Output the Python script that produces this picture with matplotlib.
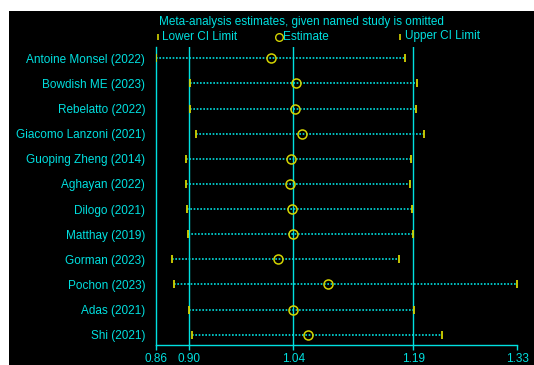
import matplotlib
matplotlib.use("Agg")
import matplotlib.pyplot as plt
from matplotlib.patches import Rectangle
from matplotlib.lines import Line2D

studies = ["Antoine Monsel (2022)", "Bowdish ME (2023)", "Rebelatto (2022)",
           "Giacomo Lanzoni (2021)", "Guoping Zheng (2014)", "Aghayan (2022)",
           "Dilogo (2021)", "Matthay (2019)", "Gorman (2023)", "Pochon (2023)",
           "Adas (2021)", "Shi (2021)"]
estimate = [1.0092, 1.0414, 1.0401, 1.0491, 1.0354, 1.0345, 1.0363, 1.0375,
            1.0182, 1.0830, 1.0383, 1.0569]
lower_ci = [0.8610, 0.9056, 0.9048, 0.9125, 0.9004, 0.8997, 0.9013, 0.9026,
            0.8824, 0.8842, 0.9035, 0.9078]
upper_ci = [1.1827, 1.1977, 1.1964, 1.2068, 1.1909, 1.1896, 1.1917, 1.1930,
            1.1749, 1.3270, 1.1943, 1.2308]
tick_values = [0.8610, 0.9035, 1.0383, 1.1930, 1.3270]
tick_labels = ["0.86", "0.90", "1.04", "1.19", "1.33"]
overall_lines = [0.9035, 1.0383, 1.1930]

CYAN = "#00e0e0"
YEL = "#d4d400"
FONT = "Liberation Sans"
FS = 8.5

W, H = 534, 365
fig = plt.figure(figsize=(W / 100, H / 100), dpi=100, facecolor="white")
fig.add_artist(Rectangle((9 / W, 0), 1, 1 - 11 / H, transform=fig.transFigure,
                         facecolor="black", edgecolor="none", zorder=-10))

ax = fig.add_axes([155.7 / W, 1 - 345 / H, (517 - 155.7) / W, (345 - 47) / H])
ax.set_facecolor("black")
ax.patch.set_alpha(0)

n = len(studies)
ys = list(range(n))
for sp in ["top", "right"]:
    ax.spines[sp].set_visible(False)
for sp in ["left", "bottom"]:
    ax.spines[sp].set_color(CYAN)
    ax.spines[sp].set_linewidth(1.0)

for v in overall_lines:
    ax.axvline(v, color=CYAN, lw=1.0, zorder=1)

for y, lo, est, hi in zip(ys, lower_ci, estimate, upper_ci):
    ax.plot([lo, hi], [y, y], color=CYAN, lw=1.2, ls=(0, (1, 1)), zorder=2)
ax.plot(lower_ci, ys, ls="none", marker="|", ms=6, mew=1.3, color=YEL, zorder=3)
ax.plot(upper_ci, ys, ls="none", marker="|", ms=6, mew=1.3, color=YEL, zorder=3)
ax.plot(estimate, ys, ls="none", marker="o", ms=6.5, mfc="none", mew=1.1,
        mec=YEL, zorder=4)

ax.set_xlim(tick_values[0], tick_values[-1])
ax.set_ylim(n - 1 + 0.41, -0.45)
ax.set_xticks(tick_values)
ax.set_xticklabels(tick_labels, fontfamily=FONT, fontsize=FS, color=CYAN)
ax.set_yticks(ys)
ax.set_yticklabels(studies, fontfamily=FONT, fontsize=FS, color=CYAN)
ax.tick_params(axis="x", direction="out", length=3.5, width=1.0, color=CYAN, pad=2.5)
ax.tick_params(axis="y", length=0, pad=7.5)

# title and legend
fig.text(159 / W, 1 - 22 / H, "Meta-analysis estimates, given named study is omitted",
         fontfamily=FONT, fontsize=FS, color=CYAN, va="center", ha="left")
ly = 1 - 36.5 / H
fig.add_artist(Line2D([157.5 / W], [ly], marker="|", ms=5, mew=1.2, color=YEL,
                      transform=fig.transFigure))
fig.text(162.5 / W, ly, "Lower CI Limit", fontfamily=FONT, fontsize=FS, color=CYAN,
         va="center", ha="left")
fig.add_artist(Line2D([278.5 / W], [ly], marker="o", ms=5.5, mfc="none", mew=1.0,
                      mec=YEL, ls="none", transform=fig.transFigure))
fig.text(283 / W, ly, "Estimate", fontfamily=FONT, fontsize=FS, color=CYAN,
         va="center", ha="left")
fig.add_artist(Line2D([399.5 / W], [ly], marker="|", ms=5, mew=1.2, color=YEL,
                      transform=fig.transFigure))
fig.text(405 / W, ly, "Upper CI Limit", fontfamily=FONT, fontsize=FS, color=CYAN,
         va="center", ha="left")

fig.savefig("out.png", dpi=100, facecolor=fig.get_facecolor())
